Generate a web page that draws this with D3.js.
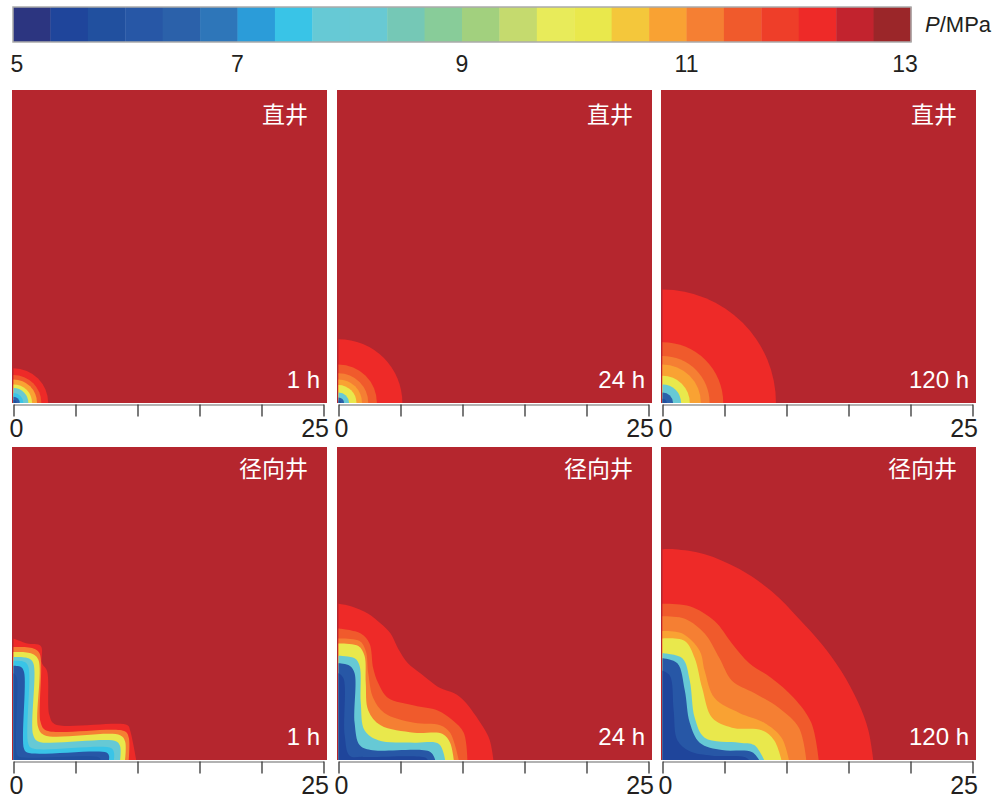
<!DOCTYPE html>
<html><head><meta charset="utf-8">
<script src="https://cdn.jsdelivr.net/npm/d3@7"></script>
<style>body{margin:0;background:#fff} svg{display:block}</style>
</head><body>
<svg id="c" width="1002" height="801"></svg>
<script>
// ---------- data ----------
const colorbarColors = ["#2c3580","#1f459b","#21509f","#2757a6","#2b61aa","#2e76b9","#2b9cd9","#39c4e7",
  "#66c9d5","#68c9d3","#75c8b6","#88cc99","#a2d07e","#c5da6e","#e8eb5a","#e9e84c",
  "#f4c73b","#f9a233","#f57f33","#f05a2c","#ee3e29","#ee2a28","#c2232e","#9b2629"];
const colorbarTicks = [5, 7, 9, 11, 13];
const pressureMin = 5, pressureMax = 13;
const fieldColor = "#b5262e";
const axisTicks = [0, 5, 10, 15, 20, 25];
const axisLabels = {0: "0", 25: "25"};
const wellTitles = ["直井", "径向井"];
const timeLabels = ["1 h", "24 h", "120 h"];

// vertical well: [colour level, radius m]
const verticalRadii1h   = [[21,2.8],[19,2.25],[17,1.9],[15,1.5],[9,1.2],[7,0.8],[4,0.5],[2,0.25]];
const verticalRadii24h  = [[21,5.15],[19,3.1],[18,2.4],[17,1.9],[15,1.45],[8,0.85],[4,0.45],[2,0.2]];
const verticalRadii120h = [[21,9.15],[19,4.9],[18,3.8],[17,3.1],[15,2.2],[8,1.5],[4,0.85],[2,0.35]];

// radial well: contour boundaries [x m, y m] from the y axis to the x axis
const radialContours1h = [
  [21, [[0,9.8],[1.1,9.4],[2.2,9.2],[2.3,7.8],[2.7,7.2],[2.9,3.6],[3.3,2.9],[9.2,2.8],[9.4,2.4],[9.9,0]]],
  [18, [[0,9.1],[1.6,9.0],[2.1,8.6],[2.2,3.0],[2.6,2.4],[9.0,2.3],[9.3,1.8],[9.3,0]]],
  [15, [[0,8.7],[1.4,8.6],[2.0,8.1],[2.0,2.6],[2.5,2.0],[8.6,2.0],[9.0,1.5],[9.0,0]]],
  [8,  [[0,8.3],[1.2,8.2],[1.6,7.8],[1.6,2.0],[2.0,1.5],[8.3,1.5],[8.6,1.1],[8.6,0]]],
  [7,  [[0,8.0],[0.9,7.9],[1.2,7.5],[1.2,1.3],[1.5,0.95],[7.9,0.95],[8.1,0.6],[8.1,0]]],
  [3,  [[0,7.6],[0.6,7.5],[0.85,7.1],[0.85,0.9],[1.1,0.6],[7.5,0.6],[7.7,0.35],[7.7,0]]],
  [2,  [[0,7.0],[0.2,6.8],[0.3,6.4],[0.3,0.4],[0.5,0.25],[6.8,0.25],[7.0,0.1],[7.0,0]]]
];
const radialContours24h = [
  [21, [[0,12.6],[1.0,12.4],[2.4,11.8],[3.4,11.0],[4.2,10.2],[4.8,9.0],[5.6,7.8],[6.6,7.0],[8.2,5.8],[9.3,5.4],[10.1,4.8],[10.9,3.8],[11.7,2.6],[12.2,1.6],[12.5,0]]],
  [19, [[0,10.6],[1.8,10.2],[2.5,9.4],[2.8,7.4],[3.2,6.2],[4.0,5.0],[6.1,4.4],[8.0,4.0],[9.2,3.2],[10.1,2.2],[10.4,0]]],
  [18, [[0,9.8],[1.7,9.6],[2.2,8.8],[2.4,7.0],[2.8,5.0],[3.7,3.8],[6.1,3.0],[8.2,2.8],[9.0,2.2],[9.7,0]]],
  [15, [[0,9.4],[1.6,9.2],[2.1,8.4],[2.2,6.2],[2.4,4.0],[3.4,2.8],[6.1,2.2],[8.4,2.1],[9.0,1.4],[9.3,0]]],
  [8,  [[0,8.4],[1.3,8.2],[1.7,7.6],[1.8,4.6],[2.1,2.4],[3.2,1.6],[6.1,1.4],[8.1,1.3],[8.6,0]]],
  [3,  [[0,7.8],[0.9,7.6],[1.3,7.0],[1.3,3.0],[1.7,1.2],[2.6,0.8],[7.4,0.65],[7.8,0]]],
  [1,  [[0,7.0],[0.4,6.6],[0.5,2.0],[0.9,0.35],[2.0,0.25],[7.0,0.2],[7.2,0]]]
];
const radialContours120h = [
  [21, [[0,17.0],[1.0,17.0],[3.4,16.6],[6.2,15.4],[8.8,13.6],[11.0,11.4],[12.8,9.4],[14.4,7.2],[15.8,4.6],[16.6,2.4],[17.0,0]]],
  [19, [[0,12.6],[2.2,12.4],[4.2,11.2],[5.6,9.4],[7.0,7.8],[8.8,6.6],[10.6,5.0],[12.0,3.0],[12.6,0]]],
  [18, [[0,11.6],[1.8,11.4],[3.4,10.2],[4.6,8.2],[5.6,6.4],[7.4,5.4],[9.4,4.2],[11.0,2.6],[11.6,0]]],
  [17, [[0,10.4],[1.6,10.2],[3.0,8.8],[3.4,7.2],[4.2,5.0],[6.2,3.8],[8.2,3.0],[9.6,1.8],[10.2,0]]],
  [15, [[0,9.8],[1.8,9.6],[2.6,8.2],[3.2,5.8],[4.0,3.4],[5.6,2.6],[8.0,2.4],[9.0,1.6],[9.6,0]]],
  [8,  [[0,8.6],[1.6,8.2],[2.2,6.4],[2.6,3.4],[3.4,1.8],[6.2,1.4],[7.4,1.2],[8.2,0]]],
  [3,  [[0,8.2],[1.2,7.8],[1.8,5.6],[2.2,3.0],[3.0,1.4],[4.8,0.8],[7.2,0.65],[7.8,0]]],
  [1,  [[0,7.2],[0.6,6.8],[0.9,4.0],[1.2,1.6],[2.2,0.7],[4.0,0.35],[6.6,0.25],[7.0,0]]]
];

// ---------- drawing ----------
const FONT = "'Liberation Sans', Arial, Helvetica, sans-serif";
const CJK = "'Noto Sans CJK SC', sans-serif";
const svg = d3.select("#c");

// colour bar
const cb = d3.scaleLinear().domain([pressureMin, pressureMax]).range([13, 911]);
const step = (pressureMax - pressureMin) / colorbarColors.length;
svg.append("g").selectAll("rect").data(colorbarColors).join("rect")
  .attr("x", (d, i) => cb(pressureMin + i * step))
  .attr("width", (d, i) => cb(pressureMin + (i + 1) * step) - cb(pressureMin + i * step) + 0.4)
  .attr("y", 7).attr("height", 35).attr("fill", d => d);
svg.append("rect").attr("x", cb(pressureMin)).attr("y", 7)
  .attr("width", cb(pressureMax) - cb(pressureMin)).attr("height", 35)
  .attr("fill", "none").attr("stroke", "#ababab").attr("stroke-width", 1.5);
svg.append("g").selectAll("text").data(colorbarTicks).join("text")
  .attr("x", d => cb(d) + (d === pressureMin ? 4 : d === pressureMax ? -6 : 0))
  .attr("y", 72).attr("text-anchor", "middle")
  .attr("font-family", FONT).attr("font-size", 23).attr("fill", "#231f20")
  .text(d => d);
const unit = svg.append("text").attr("x", 925).attr("y", 32)
  .attr("font-family", FONT).attr("font-size", 22).attr("fill", "#231f20");
unit.append("tspan").attr("font-style", "italic").text("P");
unit.append("tspan").text("/MPa");

// panels
const panels = [
  {row: 0, col: 0, type: "v", data: verticalRadii1h},
  {row: 0, col: 1, type: "v", data: verticalRadii24h},
  {row: 0, col: 2, type: "v", data: verticalRadii120h},
  {row: 1, col: 0, type: "r", data: radialContours1h},
  {row: 1, col: 1, type: "r", data: radialContours24h},
  {row: 1, col: 2, type: "r", data: radialContours120h}
];
const colLeft = [12, 337, 661], rowTop = [90, 447], W = 315, H = 313;

panels.forEach((p, k) => {
  const x0 = colLeft[p.col], y0 = rowTop[p.row];
  const sx = d3.scaleLinear().domain([0, 25]).range([x0 + 1.5, x0 + 311.5]);
  const span = sx(25) - sx(0);
  const sy = d3.scaleLinear().domain([0, 25]).range([y0 + H, y0 + H - span]);
  const g = svg.append("g");
  const clipId = "clip" + k;
  g.append("clipPath").attr("id", clipId).append("rect")
    .attr("x", x0).attr("y", y0).attr("width", W).attr("height", H);
  const body = g.append("g").attr("clip-path", `url(#${clipId})`);
  body.append("rect").attr("x", x0).attr("y", y0).attr("width", W).attr("height", H).attr("fill", fieldColor);

  if (p.type === "v") {
    const arc = d3.arc().innerRadius(0).outerRadius(d => sx(d[1]) - sx(0))
      .startAngle(0).endAngle(Math.PI / 2);
    body.selectAll("path.band").data(p.data).join("path").attr("class", "band")
      .attr("transform", `translate(${sx(0)},${sy(0)})`)
      .attr("d", arc).attr("fill", d => colorbarColors[d[0]]);
  } else {
    const line = d3.line().x(d => sx(d[0])).y(d => sy(d[1])).curve(d3.curveCatmullRom.alpha(0.5));
    body.selectAll("path.band").data(p.data).join("path").attr("class", "band")
      .attr("d", d => line(d[1]) + `L${sx(0)},${sy(0)}Z`)
      .attr("fill", d => colorbarColors[d[0]]);
  }

  // labels
  g.append("text").attr("x", x0 + W - 19).attr("y", y0 + (p.row === 0 ? 33 : 30))
    .attr("text-anchor", "end").attr("font-family", CJK).attr("font-size", 23)
    .attr("fill", "#fff").text(wellTitles[p.row]);
  g.append("text").attr("x", x0 + W - 7).attr("y", y0 + H - 15)
    .attr("text-anchor", "end").attr("font-family", FONT).attr("font-size", 24)
    .attr("fill", "#fff").text(timeLabels[p.col]);

  // axis
  const ax = d3.axisBottom(sx).tickValues(axisTicks).tickSize(12).tickSizeOuter(0)
    .tickFormat(d => axisLabels[d] || "");
  const ag = g.append("g").attr("transform", `translate(0,${y0 + H + 1.5})`).call(ax)
    .attr("font-family", FONT).attr("font-size", 25);
  ag.select(".domain").attr("stroke", "#666").attr("stroke-width", 1.2);
  ag.selectAll(".tick line").attr("stroke", "#333").attr("stroke-width", 1.3);
  ag.selectAll(".tick text").attr("y", 15).attr("dy", "0.71em").attr("fill", "#231f20")
    .attr("text-anchor", d => d === 25 ? "end" : "middle")
    .attr("dx", d => d === 25 ? 5 : 2.5);
});
</script>
</body></html>
